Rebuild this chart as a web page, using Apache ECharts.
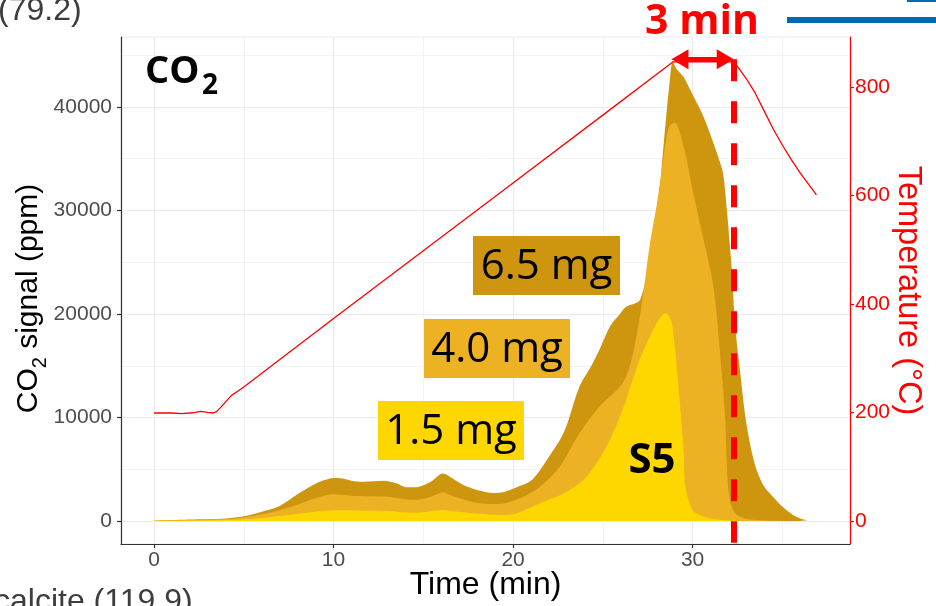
<!DOCTYPE html>
<html><head><meta charset="utf-8">
<script src="https://cdn.jsdelivr.net/npm/echarts@6/dist/echarts.min.js"></script>
<style>html,body{margin:0;padding:0;background:#fff;overflow:hidden}#c{width:936px;height:606px}</style>
</head><body><div id="c"></div>
<script>
// ---- data ----
const time65 = [0,2,4,5,6,7,8,9,9.5,10,10.5,11,11.7,12.8,13.5,14.1,14.6,15,15.5,16.1,16.6,17.2,18,18.9,19.5,20.4,21,21.5,22,22.6,23,23.7,24.3,24.8,25.4,26,26.3,27,27.2,27.6,28,28.25,28.5,28.7,28.9,29.1,29.5,30,30.6,31.1,31.5,31.7,31.9,32.05,32.2,32.3,32.45,32.6,33,33.5,34,34.5,35,35.6,36,36.4];
const co2_65 = [50,150,250,450,900,1450,2600,3600,3950,4150,4100,3900,3800,3900,3650,3250,3250,3450,3900,4600,4150,3500,3000,2700,2800,3400,3900,4900,6200,7800,9300,13000,14800,16500,18800,20100,20700,21200,22000,24500,27200,33500,38500,42000,44400,43700,42900,41200,39100,36800,34800,33600,30300,27200,24000,20700,17500,15200,9400,5300,3300,2300,1400,580,250,80];
const time40 = [0,2,4,5,6,7,8,9,10,11,12,13,14,14.6,15,15.5,16.1,16.6,17.2,18,19,19.5,20.4,21.5,22.6,23.7,24.8,25.6,26.1,26.5,26.9,27.2,27.6,28,28.2,28.5,28.7,29,29.5,30,30.7,31.1,31.3,31.5,31.8,31.95,32.1,32.3,32.6,33,34,35];
const co2_40 = [30,100,200,350,650,1050,1600,2200,2580,2450,2400,2350,2100,2050,2150,2400,2750,2450,2100,1750,1650,1700,2190,3320,5250,8470,11040,12340,13300,14900,18100,21300,26500,30500,32950,36500,38100,38450,36200,32000,26500,23300,20700,16800,10400,4000,1800,900,450,200,50,0];
const time15 = [0,2,4,5,6,7,8,9,10,11,12,13,14,14.6,15,15.5,16.1,16.6,17.2,18,19.3,20,21.5,23,24.1,25.2,26.1,27.05,28,28.5,28.8,29,29.2,29.5,29.6,30,30.5,31,32,33];
const co2_15 = [10,40,100,180,300,480,700,900,1050,1050,1000,970,820,800,850,950,1060,950,850,720,580,650,1710,2830,4280,7180,10720,15550,19100,20070,19420,17000,13300,6860,3300,1060,500,250,60,0];
const timeT = [0,0.5,1,1.5,2,2.3,2.6,3,3.3,3.5,3.7,4,4.3,4.7,5,10,15,20,25,28.9,32.25,32.5,33,33.5,34,34.5,35,35.5,36,36.5,36.9];
const tempT = [199,199,199,198,199,200,202,200,199,202,209,220,231,240,247,373,498,623,748,846,846,838,815,788,755,722,693,666,641,619,601];
const massLabels = ['6.5 mg','4.0 mg','1.5 mg'];
const xTicks = [0,10,20,30];
const xMinor = [5,15,25,35];
const yTicks = [0,10000,20000,30000,40000];
const yMinor = [5000,15000,25000,35000,45000];
const tTicks = [0,200,400,600,800];
const peakStart = 28.85, peakEnd = 32.27, arrowTemp = 851;

// ---- styles ----
const C_DARK = '#CE960E', C_MED = '#EDB224', C_LIGHT = '#FED700';
const RED = '#FF0000', AXIS = '#333333', LABEL = '#4D4D4D';
const GRIDC = '#EBEBEB', GRIDMINOR = '#F3F3F3';
const ARROW_INSET = 0.45; // half arrow-head length, in minutes
const pairs = (t, v) => t.map((x, i) => [x, v[i]]);

const chart = echarts.init(document.getElementById('c'), null, {renderer: 'canvas'});

const gridLines = [].concat(
  xMinor.map(v => ({xAxis: v, lineStyle: {color: GRIDMINOR, width: 1, type: 'solid'}})),
  yMinor.map(v => ({yAxis: v, lineStyle: {color: GRIDMINOR, width: 1, type: 'solid'}})),
  xTicks.map(v => ({xAxis: v, lineStyle: {color: GRIDC, width: 1.2, type: 'solid'}})),
  yTicks.map(v => ({yAxis: v, lineStyle: {color: GRIDC, width: 1.2, type: 'solid'}}))
);

function area(name, t, v, color) {
  return {
    name, type: 'line', data: pairs(t, v), yAxisIndex: 0,
    smooth: 0.3, symbol: 'none', showSymbol: false,
    lineStyle: {width: 0}, areaStyle: {color, opacity: 1}, itemStyle: {color}, z: 2, silent: true
  };
}

const option = {
  animation: false,
  backgroundColor: '#fff',
  grid: {left: 121, right: 86, top: 37, bottom: 62, show: true, borderColor: GRIDC, borderWidth: 1, backgroundColor: '#fff',
         containLabel: false, outerBoundsMode: 'none'},
  xAxis: {
    type: 'value', min: -1.84, max: 38.77,
    axisLine: {show: true, onZero: false, lineStyle: {color: AXIS, width: 1.2}},
    axisTick: {show: true, length: 4, customValues: xTicks, lineStyle: {color: AXIS, width: 1.2}},
    axisLabel: {customValues: xTicks, color: LABEL, fontSize: 21, margin: 6, fontFamily: 'Liberation Sans'},
    splitLine: {show: false},
    name: 'Time (min)', nameLocation: 'middle', nameGap: 25, nameMoveOverlap: false,
    nameTextStyle: {fontSize: 32, color: '#000', fontFamily: 'Liberation Sans'}
  },
  yAxis: [{
    type: 'value', position: 'left', min: -2222, max: 46763,
    axisLine: {show: true, onZero: false, lineStyle: {color: AXIS, width: 1.2}},
    axisTick: {show: true, length: 4, customValues: yTicks, lineStyle: {color: AXIS, width: 1.2}},
    axisLabel: {customValues: yTicks, color: LABEL, fontSize: 21, margin: 9, fontFamily: 'Liberation Sans', formatter: v => String(v)},
    splitLine: {show: false},
    name: '{m|CO}{s|2}{m| signal (ppm)}', nameLocation: 'middle', nameRotate: 90, nameGap: 71, nameMoveOverlap: false,
    nameTextStyle: {color: '#000', fontFamily: 'Liberation Sans', padding: [0, 16, 0, 0], rich: {
      m: {fontSize: 30, lineHeight: 36, verticalAlign: 'top', fontFamily: 'Liberation Sans', color: '#000'},
      s: {fontSize: 20, lineHeight: 20, padding: [16, 0, 0, 0], verticalAlign: 'top', fontFamily: 'Liberation Sans', color: '#000'}
    }}
  }, {
    type: 'value', position: 'right', min: -42.4, max: 892,
    axisLine: {show: true, onZero: false, lineStyle: {color: RED, width: 1.2}},
    axisTick: {show: true, length: 4, customValues: tTicks, lineStyle: {color: RED, width: 1.2}},
    axisLabel: {customValues: tTicks, color: RED, fontSize: 21, margin: 5, fontFamily: 'Liberation Sans'},
    splitLine: {show: false},
    name: 'Temperature (°C)', nameLocation: 'middle', nameRotate: -90, nameGap: 41, nameMoveOverlap: false,
    nameTextStyle: {fontSize: 32.5, color: RED, fontFamily: 'Liberation Sans'}
  }],
  series: [
    {
      name: 'grid', type: 'line', data: [[0, 0]], symbol: 'none', lineStyle: {opacity: 0}, z: 0, silent: true,
      markLine: {silent: true, symbol: 'none', label: {show: false}, animation: false, z: 0, zlevel: 0, data: gridLines}
    },
    area(massLabels[0], time65, co2_65, C_DARK),
    area(massLabels[1], time40, co2_40, C_MED),
    area(massLabels[2], time15, co2_15, C_LIGHT),
    {
      name: 'Temperature', type: 'line', yAxisIndex: 1, data: pairs(timeT, tempT),
      symbol: 'none', showSymbol: false, lineStyle: {color: RED, width: 1.3}, itemStyle: {color: RED}, z: 4, silent: true,
      markLine: {
        silent: true, label: {show: false}, animation: false, z: 6,
        data: [
          [{coord: [peakEnd, arrowTemp], symbol: 'none', lineStyle: {color: RED, width: 6, type: [22, 20], cap: 'butt'}},
           {coord: [peakEnd, -40], symbol: 'none'}],
          [{coord: [peakStart + ARROW_INSET, arrowTemp], symbol: 'triangle', symbolSize: [20, 17], lineStyle: {color: RED, width: 5, type: 'solid'}},
           {coord: [peakEnd - ARROW_INSET, arrowTemp], symbol: 'triangle', symbolSize: [20, 17]}]
        ]
      }
    }
  ],
  graphic: [
    {type: 'text', z: 10, left: -2, top: -5, style: {text: '(79.2)', fontSize: 32, fill: '#3D3D3D', fontFamily: 'Liberation Sans'}},
    {type: 'text', z: 10, left: -6, top: 586, style: {text: 'calcite (119.9)', fontSize: 32, fill: '#3D3D3D', fontFamily: 'Liberation Sans'}},
    {type: 'rect', z: 10, shape: {x: 787, y: 17, width: 149, height: 6}, style: {fill: '#0069B4'}},
    {type: 'rect', z: 10, shape: {x: 907, y: -1, width: 29, height: 3}, style: {fill: '#0069B4'}},
    {type: 'text', z: 10, x: 702, y: 22, style: {text: '3 min', fontSize: 41, fontWeight: 'bold', fill: RED, fontFamily: 'Open Sans', align: 'center', verticalAlign: 'middle'}},
    {type: 'text', z: 10, x: 145, y: 72, style: {text: 'CO', fontSize: 38, fontWeight: 'bold', fill: '#000', fontFamily: 'Open Sans', align: 'left', verticalAlign: 'middle'}},
    {type: 'text', z: 10, x: 202, y: 86, style: {text: '2', fontSize: 28, fontWeight: 'bold', fill: '#000', fontFamily: 'Open Sans', align: 'left', verticalAlign: 'middle'}},
    {type: 'rect', z: 10, shape: {x: 473, y: 236, width: 147, height: 59}, style: {fill: C_DARK}},
    {type: 'text', z: 11, x: 546.5, y: 267, style: {text: massLabels[0], fontSize: 42, fill: '#000', fontFamily: 'Open Sans', align: 'center', verticalAlign: 'middle'}},
    {type: 'rect', z: 10, shape: {x: 424, y: 319, width: 146, height: 59}, style: {fill: C_MED}},
    {type: 'text', z: 11, x: 497, y: 350, style: {text: massLabels[1], fontSize: 42, fill: '#000', fontFamily: 'Open Sans', align: 'center', verticalAlign: 'middle'}},
    {type: 'rect', z: 10, shape: {x: 378, y: 401, width: 146, height: 59}, style: {fill: C_LIGHT}},
    {type: 'text', z: 11, x: 451, y: 432, style: {text: massLabels[2], fontSize: 42, fill: '#000', fontFamily: 'Open Sans', align: 'center', verticalAlign: 'middle'}},
    {type: 'text', z: 11, x: 652, y: 461, style: {text: 'S5', fontSize: 42, fontWeight: 'bold', fill: '#000', fontFamily: 'Open Sans', align: 'center', verticalAlign: 'middle'}}
  ]
};
chart.setOption(option);
</script>
</body></html>
